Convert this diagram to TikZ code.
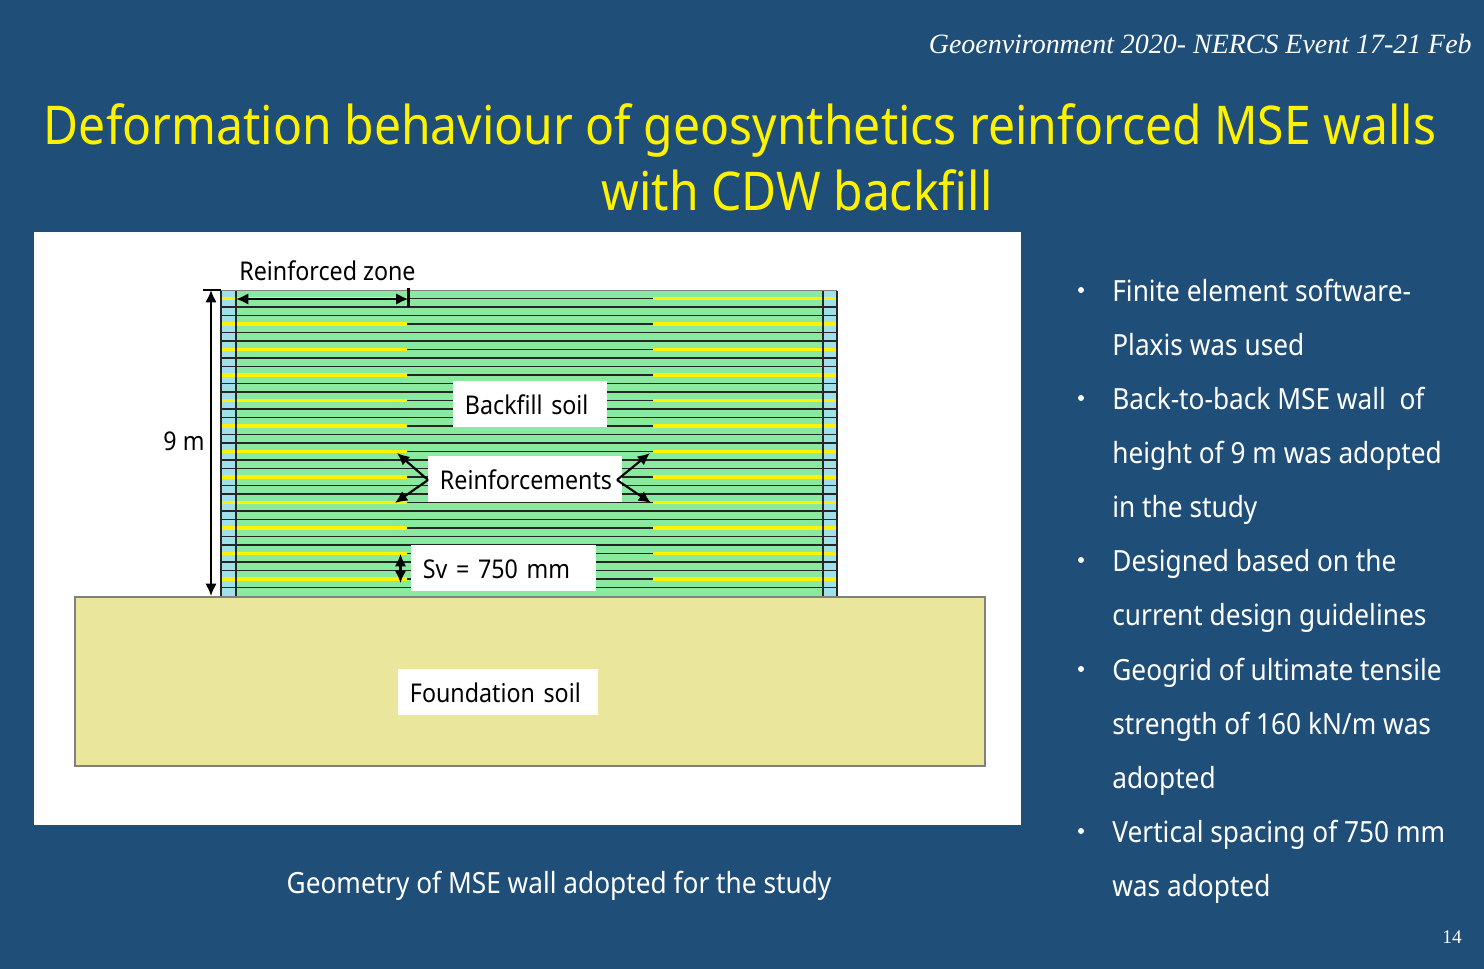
\documentclass[tikz,border=0pt]{standalone}
\usepackage{fontspec}
\setmainfont[FakeStretch=0.9]{Noto Sans}
\newfontfamily\serifit{Liberation Serif}
\usepackage{xcolor}
\usetikzlibrary{arrows.meta}
\definecolor{slidebg}{HTML}{1F4E79}
\definecolor{backfill}{HTML}{88E99F}
\definecolor{facing}{HTML}{A0E0E8}
\definecolor{foundation}{HTML}{EAE69B}
\tikzstyle{title}=[text=yellow,font=\fontsize{30.4}{30.4}\selectfont,anchor=base,inner sep=0pt]
\tikzstyle{bodytext}=[text=white,font=\fontsize{16.6}{16.6}\selectfont,anchor=base west,inner sep=0pt]
\tikzstyle{tag}=[fill=white,text=black,font=\fontsize{14.7}{14.7}\selectfont,inner ysep=0pt,inner xsep=6.8pt,align=left,text height=19.3pt,text depth=6.8pt]
\tikzstyle{plainlabel}=[text=black,font=\fontsize{14.7}{14.7}\selectfont,anchor=base,inner sep=0pt]
\tikzstyle{layer} = [draw=black!85,line width=0.9pt]
\tikzstyle{geogrid} = [draw=yellow,line width=1.8pt]
\tikzstyle{dim} = [draw=black,line width=1.2pt,{Latex[length=7pt,width=6.5pt]}-{Latex[length=7pt,width=6.5pt]}]
\tikzstyle{pointer} = [draw=black,line width=1.2pt,-{Latex[length=7pt,width=6.5pt]}]
\tikzset{tickline/.style={draw=black,line width=1.2pt}}

\begin{document}
\begin{tikzpicture}[x=0.02cm,y=-0.02cm]
 \useasboundingbox (0,0) rectangle (1484,969);
 \fill[slidebg] (0,0) rectangle (1484,969);

 %header
 \node[text=white,font=\serifit\itshape\fontsize{15.9}{15.9}\selectfont,anchor=base east,inner sep=0pt] (event) at (1472,54) {Geoenvironment 2020- NERCS Event 17-21 Feb};
 \node[title] (title1) at (740,145) {Deformation behaviour of geosynthetics reinforced MSE walls};
 \node[title] (title2) at (797,211) {with CDW backfill};

 %white panel
 \fill[white] (34,232) rectangle (1021,825);

 %wall body
 \fill[backfill] (236,291) rectangle (823,597);
 \fill[facing] (221,291) rectangle (236,597);
 \fill[facing] (823,291) rectangle (837,597);
 \draw[gray,line width=0.8pt] (221,290.5) -- (837,290.5);

 \foreach \n in {0,...,34}
   \draw[layer] (221,298.5+\n*8.5) -- (837,298.5+\n*8.5);

 \foreach \n in {0,...,11}{
   \draw[geogrid] (221,298.5+\n*25.5) -- (407,298.5+\n*25.5);
   \draw[geogrid] (653,298.5+\n*25.5) -- (837,298.5+\n*25.5);
 }

 \foreach \x in {221,236,823,837}
   \draw[layer] (\x,291) -- (\x,597);

 %foundation
 \draw[fill=foundation,draw=black!50,line width=0.6pt] (75,597) rectangle (985,766);

 %labels
 \foreach \x/\y/\wid/\name/\label in {530/404/154/backfilllabel/Backfill soil, 525/479/194/reinflabel/Reinforcements, 503.5/568/185/svlabel/Sv = 750 mm, 498/692/200/foundlabel/Foundation soil}
   \node[tag,text width=\wid*0.02cm-13.6pt] (\name) at (\x,\y) {\label};

 \node[plainlabel] (zonelabel) at (327.5,281) {Reinforced zone};
 \node[plainlabel] (heightlabel) at (184,450) {9 m};

 %dimension arrows
 \foreach \name/\x/\y in {htop/211/290, hbot/211/596, ztop/236/299, zend/408.5/299, svtop/400.5/554, svbot/400.5/583, rapexl/428/480, rul/397/453, rll/395/503, rapexr/617/480, rur/650/453, rlr/651/503, htick1/203/290, htick2/221/290, ztick1/408.5/288, ztick2/408.5/307}
   \coordinate (\name) at (\x,\y);

 \draw[dim] (htop) -- (hbot);
 \draw[dim] (ztop) -- (zend);
 \draw[dim] (svtop) -- (svbot);
 \draw[tickline] (htick1) -- (htick2);
 \draw[tickline] (ztick1) -- (ztick2);

 \foreach \source/\dest in {rapexl/rul, rapexl/rll, rapexr/rur, rapexr/rlr}
   \draw[pointer] (\source) -- (\dest);

 %caption
 \node[bodytext,anchor=base] (caption) at (559,893) {Geometry of MSE wall adopted for the study};

 %bullet list
 \foreach \y/\name/\line in {301.5/l1/Finite element software-, 355.5/l2/Plaxis was used, 409.5/l3/Back-to-back MSE wall\ \ of, 463.5/l4/height of 9 m was adopted, 517.5/l5/in the study, 571.5/l6/Designed based on the, 625.5/l7/current design guidelines, 680.5/l8/Geogrid of ultimate tensile, 734.5/l9/{strength of 160 kN/m was}, 788.5/l10/adopted, 842.5/l11/Vertical spacing of 750 mm, 896.5/l12/was adopted}
   \node[bodytext] (\name) at (1112,\y) {\line};

 \foreach \y/\name in {290/b1, 398/b2, 560/b3, 669/b4, 831/b5}
   \fill[white] (1081,\y) circle (3);

 \node[text=white,font=\serifit\fontsize{11}{11}\selectfont,anchor=base,inner sep=0pt] (pagenum) at (1452,943) {14};
\end{tikzpicture}
\end{document}
